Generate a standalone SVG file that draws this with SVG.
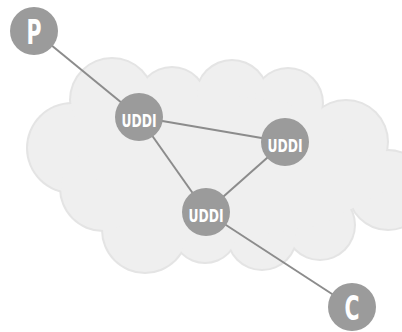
<svg xmlns="http://www.w3.org/2000/svg" width="402" height="332" viewBox="0 0 402 332">
<style>
.cb{fill:#e4e4e4;}
.cf{fill:#efefef;}
.edge{stroke:#8c8c8c;stroke-width:2;fill:none;}
.node{fill:#9b9b9b;}
.lbl{fill:#ffffff;font-family:"DejaVu Sans Condensed","DejaVu Sans",sans-serif;font-weight:bold;text-anchor:middle;}
</style>
<g id="cloud">
<g class="cb">
<circle cx="72" cy="148" r="46"/>
<circle cx="112" cy="100" r="43"/>
<circle cx="172" cy="102" r="36"/>
<circle cx="232" cy="96" r="37"/>
<circle cx="288" cy="103" r="36"/>
<circle cx="346" cy="142" r="43"/>
<circle cx="388" cy="190" r="41"/>
<circle cx="320" cy="225" r="36"/>
<circle cx="262" cy="235" r="36"/>
<circle cx="205" cy="230" r="34"/>
<circle cx="145" cy="230" r="44"/>
<circle cx="103" cy="188" r="44"/>
</g>
<g class="cf">
<circle cx="72" cy="148" r="44"/>
<circle cx="112" cy="100" r="41"/>
<circle cx="172" cy="102" r="34"/>
<circle cx="232" cy="96" r="35"/>
<circle cx="288" cy="103" r="34"/>
<circle cx="346" cy="142" r="41"/>
<circle cx="388" cy="190" r="39"/>
<circle cx="320" cy="225" r="34"/>
<circle cx="262" cy="235" r="34"/>
<circle cx="205" cy="230" r="32"/>
<circle cx="145" cy="230" r="42"/>
<circle cx="103" cy="188" r="42"/>
<polygon points="72,148 112,100 172,102 232,96 288,103 346,142 388,190 320,225 262,235 205,230 145,230 103,188"/>
</g>
</g>
<g id="connectors" class="edge">
<line x1="34" y1="31" x2="139" y2="117"/>
<line x1="139" y1="117" x2="285" y2="142"/>
<line x1="139" y1="117" x2="206" y2="212"/>
<line x1="285" y1="142" x2="206" y2="212"/>
<line x1="206" y1="212" x2="352" y2="307"/>
</g>
<g id="P">
<circle class="node" cx="34" cy="31" r="24"/>
<text class="lbl" x="34" y="44" font-size="33" textLength="15" lengthAdjust="spacingAndGlyphs">P</text>
</g>
<g id="UDDI1">
<circle class="node" cx="139" cy="117" r="24"/>
<text class="lbl" x="139" y="127" font-size="17.5" textLength="35" lengthAdjust="spacingAndGlyphs">UDDI</text>
</g>
<g id="UDDI2">
<circle class="node" cx="285" cy="142" r="24"/>
<text class="lbl" x="285" y="152" font-size="17.5" textLength="35" lengthAdjust="spacingAndGlyphs">UDDI</text>
</g>
<g id="UDDI3">
<circle class="node" cx="206" cy="212" r="24"/>
<text class="lbl" x="206" y="222" font-size="17.5" textLength="35" lengthAdjust="spacingAndGlyphs">UDDI</text>
</g>
<g id="C">
<circle class="node" cx="352" cy="307" r="24"/>
<text class="lbl" x="352" y="320" font-size="33" textLength="15" lengthAdjust="spacingAndGlyphs">C</text>
</g>
</svg>
